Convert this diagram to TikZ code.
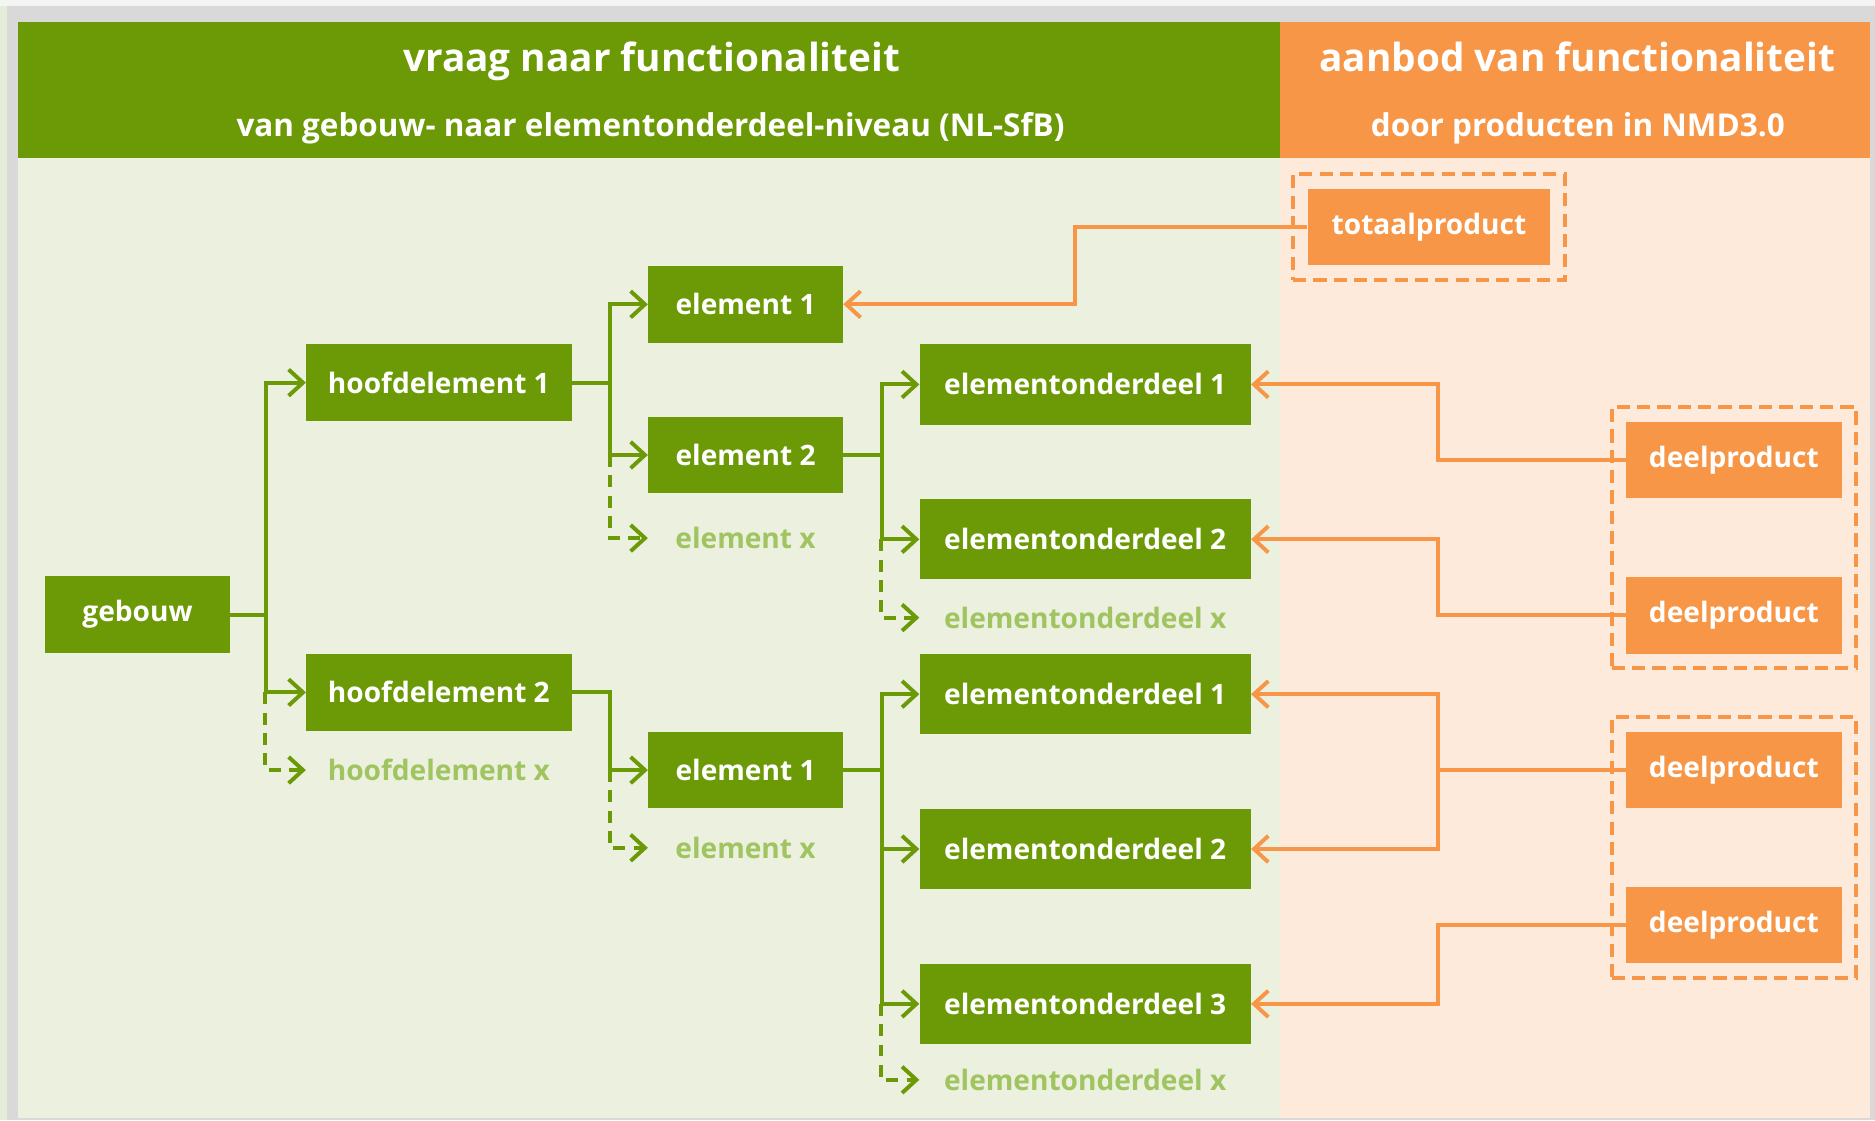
\documentclass[tikz,border=0pt]{standalone}
\usepackage{fontspec}
\setmainfont{Open Sans}
\usetikzlibrary{arrows.meta,fit}
\definecolor{gdark}{RGB}{108,154,6}
\definecolor{gpale}{RGB}{160,196,96}
\definecolor{gbg}{RGB}{235,240,223}
\definecolor{orng}{RGB}{247,150,70}
\definecolor{obg}{RGB}{253,234,218}
\definecolor{framegray}{RGB}{217,217,217}
\definecolor{leftstrip}{RGB}{228,236,218}
\definecolor{topstrip}{RGB}{244,245,242}
\begin{document}
\begin{tikzpicture}[x=1pt,y=-1pt,
  box/.style={inner sep=0pt, minimum height=64pt, text=white, font=\fontsize{23.5}{28}\selectfont\bfseries},
  gbox/.style={box, fill=gdark},
  obox/.style={box, fill=orng},
  ghost/.style={inner sep=0pt, minimum height=30pt, text=gpale, font=\fontsize{23.5}{28}\selectfont\bfseries},
  htitle/.style={inner sep=0pt, text=white, font=\fontsize{32.4}{38}\selectfont\bfseries},
  hsub/.style={inner sep=0pt, text=white, font=\fontsize{26.3}{31}\selectfont\bfseries},
  garrow/.style={draw=gdark, line width=3.3pt, -{Straight Barb[length=12pt,width=22pt]}},
  gdarrow/.style={garrow, dash pattern=on 10pt off 7pt},
  oarrow/.style={draw=orng, line width=3.3pt, -{Straight Barb[length=12pt,width=22pt]}},
  ogroup/.style={draw=orng, line width=3.2pt, dash pattern=on 11pt off 6pt, inner sep=12pt}
]
\useasboundingbox (0,0) rectangle (1568,937);
% frame and backgrounds
\fill[framegray] (0,0) rectangle (1568,937);
\fill[leftstrip] (0,0) rectangle (5.5,937);
\fill[topstrip] (0,0) rectangle (1568,5);
\fill[gbg] (15,132) rectangle (1070,935);
\fill[obg] (1070,132) rectangle (1564,935);
\fill[gdark] (15,18) rectangle (1070,132);
\fill[orng] (1070,18) rectangle (1564,132);

% headers
\node[htitle, anchor=base] (ht1) at (545,60) {vraag naar functionaliteit};
\node[hsub, anchor=base] (hs1) at (544,114) {van gebouw- naar elementonderdeel-niveau (NL-SfB)};
\node[htitle, anchor=base] (ht2) at (1319,60) {aanbod van functionaliteit};
\node[hsub, anchor=base] (hs2) at (1319.5,114) {door producten in NMD3.0};

% green tree
\node[gbox, minimum width=154pt] (geb) at (115,514) {gebouw};
\node[gbox, minimum width=222pt] (h1) at (367,320) {hoofdelement 1};
\node[gbox, minimum width=222pt] (h2) at (367,579) {hoofdelement 2};
\node[ghost, minimum width=222pt] (hx) at (367,644) {hoofdelement x};

\node[gbox, minimum width=163pt] (e1) at (623.5,254.5) {element 1};
\node[gbox, minimum width=163pt] (e2) at (623.5,380.5) {element 2};
\node[ghost, minimum width=163pt] (ex1) at (623.5,450) {element x};
\node[gbox, minimum width=163pt] (e3) at (623.5,644) {element 1};
\node[ghost, minimum width=163pt] (ex2) at (623.5,709) {element x};

\node[gbox, minimum width=277pt, minimum height=67pt] (eo1) at (907.5,321.5) {elementonderdeel 1};
\node[gbox, minimum width=277pt, minimum height=67pt] (eo2) at (907.5,451) {elementonderdeel 2};
\node[ghost, minimum width=277pt] (eox1) at (907.5,516.5) {elementonderdeel x};
\node[gbox, minimum width=277pt, minimum height=67pt] (eo3) at (907.5,580.5) {elementonderdeel 1};
\node[gbox, minimum width=277pt, minimum height=67pt] (eo4) at (907.5,710) {elementonderdeel 2};
\node[gbox, minimum width=277pt, minimum height=67pt] (eo5) at (907.5,839.5) {elementonderdeel 3};
\node[ghost, minimum width=277pt] (eox2) at (907.5,903) {elementonderdeel x};

% orange products
\node[obox, minimum width=203pt, minimum height=64pt] (tp) at (1195,190) {totaalproduct};
\node[obox, minimum width=180pt] (d1) at (1450,384.5) {deelproduct};
\node[obox, minimum width=180pt] (d2) at (1450,514.5) {deelproduct};
\node[obox, minimum width=180pt] (d3) at (1450,644) {deelproduct};
\node[obox, minimum width=180pt] (d4) at (1450,773.5) {deelproduct};

\node[ogroup, fit=(tp)] (g0) {};
\node[ogroup, fit=(d1)(d2)] (g1) {};
\node[ogroup, fit=(d3)(d4)] (g2) {};

% green connectors
\draw[garrow] (geb.east) -- ++(30,0) |- (h1.west);
\draw[garrow] (geb.east) -- ++(30,0) |- (h2.west);
\draw[gdarrow] ([xshift=-34pt]h2.west) |- (hx.west);

\draw[garrow] (h1.east) -- ++(32,0) |- (e1.west);
\draw[garrow] (h1.east) -- ++(32,0) |- (e2.west);
\draw[gdarrow] ([xshift=-32pt]e2.west) |- (ex1.west);

\draw[garrow] (e2.east) -- ++(32,0) |- (eo1.west);
\draw[garrow] (e2.east) -- ++(32,0) |- (eo2.west);
\draw[gdarrow] ([xshift=-32pt]eo2.west) |- (eox1.west);

\draw[garrow] (h2.east) -- ++(32,0) |- (e3.west);
\draw[gdarrow] ([xshift=-32pt]e3.west) |- (ex2.west);

\draw[garrow] (e3.east) -- ++(32,0) |- (eo3.west);
\draw[garrow] (e3.east) -- ++(32,0) |- (eo4.west);
\draw[garrow] (e3.east) -- ++(32,0) |- (eo5.west);
\draw[gdarrow] ([xshift=-32pt]eo5.west) |- (eox2.west);

% orange connectors
\draw[oarrow] (tp.west) -- ++(-194,0) |- (e1.east);
\draw[oarrow] (d1.west) -- ++(-157,0) |- (eo1.east);
\draw[oarrow] (d2.west) -- ++(-157,0) |- (eo2.east);
\draw[oarrow] (d3.west) -- ++(-157,0) |- (eo3.east);
\draw[oarrow] (d3.west) -- ++(-157,0) |- (eo4.east);
\draw[oarrow] (d4.west) -- ++(-157,0) |- (eo5.east);
\end{tikzpicture}
\end{document}
